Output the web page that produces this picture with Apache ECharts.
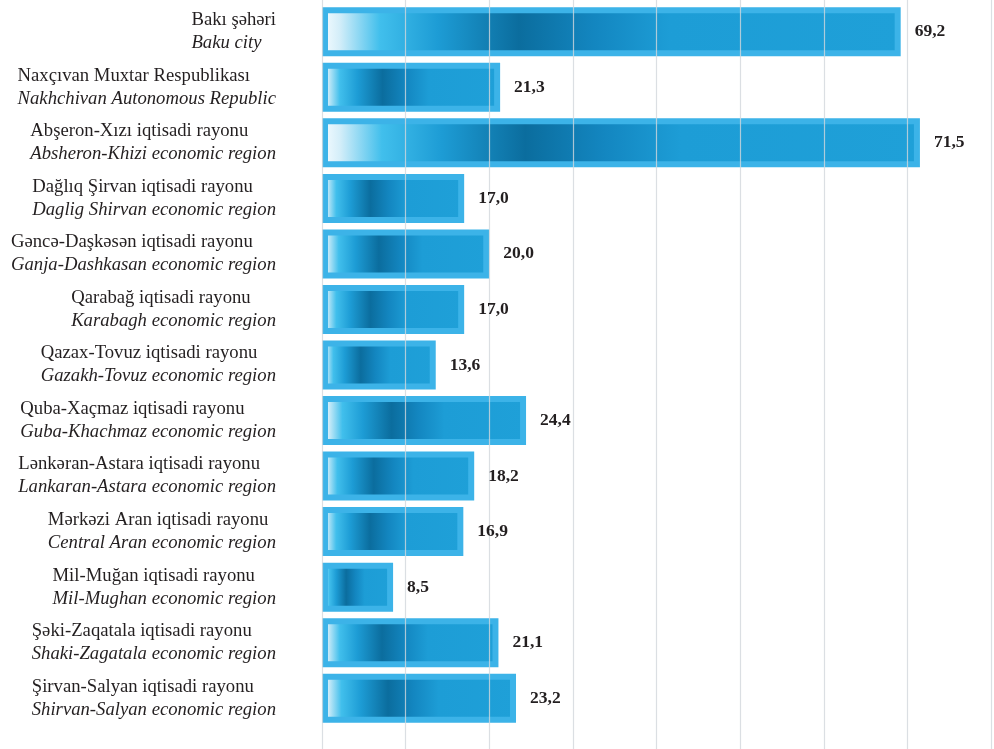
<!DOCTYPE html>
<html>
<head>
<meta charset="utf-8">
<script src="https://cdn.jsdelivr.net/npm/echarts@6/dist/echarts.min.js"></script>
<style>
html,body{margin:0;padding:0;background:#fff;}
#c{width:994px;height:749px;}
</style>
</head>
<body>
<div id="c"></div>
<script>
var categoriesAz = [
  "Bakı şəhəri",
  "Naxçıvan Muxtar Respublikası",
  "Abşeron-Xızı iqtisadi rayonu",
  "Dağlıq Şirvan iqtisadi rayonu",
  "Gəncə-Daşkəsən iqtisadi rayonu",
  "Qarabağ iqtisadi rayonu",
  "Qazax-Tovuz iqtisadi rayonu",
  "Quba-Xaçmaz iqtisadi rayonu",
  "Lənkəran-Astara iqtisadi rayonu",
  "Mərkəzi Aran iqtisadi rayonu",
  "Mil-Muğan iqtisadi rayonu",
  "Şəki-Zaqatala iqtisadi rayonu",
  "Şirvan-Salyan iqtisadi rayonu"
];
var categoriesEn = [
  "Baku city",
  "Nakhchivan Autonomous Republic",
  "Absheron-Khizi economic region",
  "Daglig Shirvan economic region",
  "Ganja-Dashkasan economic region",
  "Karabagh economic region",
  "Gazakh-Tovuz economic region",
  "Guba-Khachmaz economic region",
  "Lankaran-Astara economic region",
  "Central Aran economic region",
  "Mil-Mughan economic region",
  "Shaki-Zagatala economic region",
  "Shirvan-Salyan economic region"
];
var values = [69.2, 21.3, 71.5, 17.0, 20.0, 17.0, 13.6, 24.4, 18.2, 16.9, 8.5, 21.1, 23.2];
var xTicks = [0, 10, 20, 30, 40, 50, 60, 70, 80];

var categories = categoriesAz.map(function (a, i) { return a + "\n" + categoriesEn[i]; });

var chart = echarts.init(document.getElementById('c'), null, {renderer: 'canvas'});
var barFill = new echarts.graphic.LinearGradient(0, 0, 1, 0, [
  {offset: 0, color: '#f6fcff'},
  {offset: 0.03, color: '#d4eef9'},
  {offset: 0.1, color: '#41bfec'},
  {offset: 0.2, color: '#1d9cd5'},
  {offset: 0.34, color: '#0b6d9e'},
  {offset: 0.47, color: '#1386c0'},
  {offset: 0.6, color: '#1d9dd6'},
  {offset: 1, color: '#1fa0d8'}
]);

function fmt(p) { return p.value.toFixed(1).replace('.', ','); }

chart.setOption({
  animation: false,
  backgroundColor: '#ffffff',
  grid: [
    {left: 322, right: 3, top: 4, bottom: 23, containLabel: false},
    {left: 322, right: 3, top: 0, bottom: 0, containLabel: false}
  ],
  xAxis: [
    {
      gridIndex: 0, type: 'value', min: xTicks[0], max: xTicks[xTicks.length - 1], interval: 10,
      axisLabel: {show: false}, axisLine: {show: false}, axisTick: {show: false},
      splitLine: {show: false}
    },
    {
      gridIndex: 1, type: 'value', min: xTicks[0], max: xTicks[xTicks.length - 1], interval: 10, z: 5,
      axisLabel: {show: false}, axisLine: {show: false}, axisTick: {show: false},
      splitLine: {show: true, lineStyle: {color: 'rgba(210,215,220,0.8)', width: 1.2}}
    }
  ],
  yAxis: [
    {
      gridIndex: 0, type: 'category', data: categories, inverse: true,
      axisLine: {show: false}, axisTick: {show: false},
      axisLabel: {
        margin: 46,
        formatter: function (v, i) {
          return '{a|' + categoriesAz[i] + '}\n{b|' + categoriesEn[i] + '}';
        },
        rich: {
          a: {fontFamily: 'Liberation Serif', fontSize: 18.7, color: '#231f20', lineHeight: 23, align: 'left'},
          b: {fontFamily: 'Liberation Serif', fontSize: 18.7, fontStyle: 'italic', color: '#231f20', lineHeight: 23, align: 'left'}
        }
      }
    },
    {
      gridIndex: 1, type: 'value', min: 0, max: 1, show: false
    }
  ],
  series: [
    {
      type: 'bar',
      xAxisIndex: 0, yAxisIndex: 0,
      data: values,
      barWidth: 49,
      z: 2,
      itemStyle: {
        color: barFill,
        borderColor: '#3cb3e8',
        borderWidth: 6
      }
    },
    {
      type: 'bar',
      xAxisIndex: 0, yAxisIndex: 0,
      data: values,
      barWidth: 49,
      barGap: '-100%',
      z: 10,
      silent: true,
      itemStyle: {color: 'rgba(0,0,0,0)'},
      label: {
        show: true, position: 'right', distance: 14,
        fontFamily: 'Liberation Serif', fontWeight: 'bold', fontSize: 17.5, color: '#231f20',
        formatter: fmt
      }
    }
  ]
});
</script>
</body>
</html>
